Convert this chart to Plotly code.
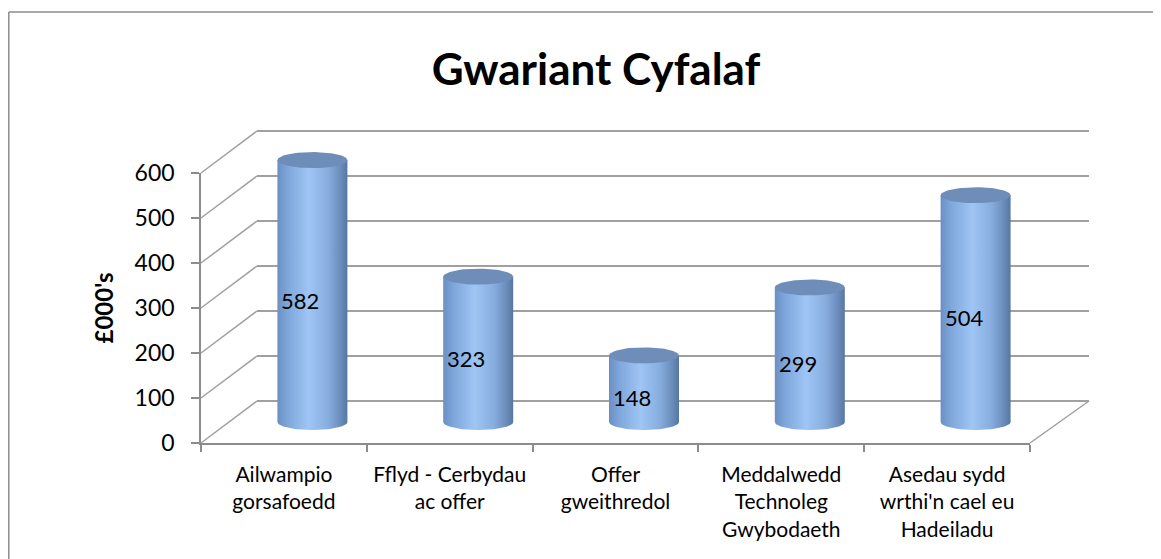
import numpy as np
import plotly.graph_objects as go

# ---------------- data ----------------
categories = [
    "Ailwampio<br>gorsafoedd",
    "Fflyd - Cerbydau<br>ac offer",
    "Offer<br>gweithredol",
    "Meddalwedd<br>Technoleg<br>Gwybodaeth",
    "Asedau sydd<br>wrthi'n cael eu<br>Hadeiladu",
]
values = [582, 323, 148, 299, 504]
y_ticks = [0, 100, 200, 300, 400, 500, 600]
chart_title = "Gwariant Cyfalaf"
y_title = "£000's"

# ---------------- geometry ----------------
OFF = 8                        # page body margin
W, H = 1161, 559
FX0, FX1 = 201 - OFF, 1030 - OFF
FY0 = 443 - OFF                # front zero line
K = 0.45                       # px per unit
MID_DX, MID_DY = 28.5, -21
BACK_DX, BACK_DY = 56, -42
BACK_X1 = 1089 - OFF
YMAX = 600

FONT = "Lato"
GRID = "#a0a0a0"
AXIS = "#8c8c8c"


def ydom(lo, hi, yzero):
    pb = yzero - lo * K
    pt = yzero - hi * K
    return [1 - pb / H, 1 - pt / H]


n = len(categories)
idx = list(range(n))

fig = go.Figure()

# ---- back wall (subplot 1): gridlines ----
back_rng = [-3, YMAX + 3]
fig.add_trace(go.Scatter(x=[0], y=[0], mode="markers", marker=dict(opacity=0),
                         hoverinfo="skip", showlegend=False, xaxis="x", yaxis="y"))

# ---- cylinders (subplot 2, mid depth) ----
w = 35 / ((FX1 - FX0) / n)     # half width in category units
ry = 8 / K                     # ellipse half height in value units
body_scale = [
    [0.0, "#6a8fc4"], [0.15, "#7fa7db"], [0.45, "#9ec5f4"],
    [0.72, "#88aedf"], [0.9, "#6b8dbc"], [1.0, "#56779f"],
]
t_front = np.linspace(np.pi, 2 * np.pi, 40)
t_full = np.linspace(0, 2 * np.pi, 80)
for i, v in zip(idx, values):
    bx = list(i + w * np.cos(t_front)) + [i + w, i - w, i - w]
    by = list(0 + ry * np.sin(t_front)) + [v, v, 0]
    fig.add_trace(go.Scatter(
        x=bx, y=by, mode="lines", fill="toself", line=dict(width=0, color="rgba(0,0,0,0)"),
        fillgradient=dict(type="horizontal", colorscale=body_scale, start=i - w, stop=i + w),
        hoverinfo="skip", showlegend=False, xaxis="x2", yaxis="y2"))
    fig.add_trace(go.Scatter(
        x=list(i + w * np.cos(t_full)), y=list(v + ry * np.sin(t_full)),
        mode="lines", fill="toself", fillcolor="#6e8db8",
        line=dict(width=0, color="rgba(0,0,0,0)"),
        hoverinfo="skip", showlegend=False, xaxis="x2", yaxis="y2"))

# ---- front axes (subplot 3) ----
fig.add_trace(go.Scatter(x=categories, y=values, mode="markers", marker=dict(opacity=0),
                         hoverinfo="skip", showlegend=False, xaxis="x3", yaxis="y3"))

# data labels
annotations = []
for i, v in zip(idx, values):
    annotations.append(dict(
        x=i, y=v / 2, xref="x2", yref="y2", text=str(v), showarrow=False,
        xanchor="left", yanchor="middle", xshift=-33, yshift=-9,
        font=dict(family=FONT, size=22, color="black")))

# diagonal edges and frame
shapes = []
for v in y_ticks:
    fy = FY0 - v * K
    shapes.append(dict(type="line", xref="paper", yref="paper",
                       x0=FX0 / W, y0=1 - fy / H,
                       x1=(FX0 + BACK_DX) / W, y1=1 - (fy + BACK_DY) / H,
                       line=dict(color=GRID, width=1.5)))
shapes.append(dict(type="line", xref="paper", yref="paper",
                   x0=FX1 / W, y0=1 - FY0 / H,
                   x1=BACK_X1 / W, y1=1 - (FY0 + BACK_DY) / H,
                   line=dict(color=GRID, width=1.5)))
bl = 0.8 / W
bt = 1 - (12 - OFF) / H
shapes.append(dict(type="line", xref="paper", yref="paper",
                   x0=bl, y0=0, x1=bl, y1=bt, line=dict(color="#8c8c8c", width=1.5)))
shapes.append(dict(type="line", xref="paper", yref="paper",
                   x0=bl, y0=bt, x1=1, y1=bt, line=dict(color="#8c8c8c", width=1.5)))

fig.update_layout(
    width=W, height=H, autosize=False,
    margin=dict(l=0, r=0, t=0, b=0, pad=0),
    paper_bgcolor="white", plot_bgcolor="rgba(0,0,0,0)",
    hovermode=False, showlegend=False,
    title=dict(text=f"<b>{chart_title}</b>", x=(596 - OFF) / W, xanchor="center",
               y=1 - (70 - OFF) / H, yanchor="middle", automargin=False,
               font=dict(family=FONT, size=44, color="black")),
    font=dict(family=FONT, color="black"),
    # back wall
    xaxis=dict(domain=[(FX0 + BACK_DX) / W, BACK_X1 / W], range=[-0.5, n - 0.5],
               visible=False, anchor="y", automargin=False),
    yaxis=dict(domain=ydom(back_rng[0], back_rng[1], FY0 + BACK_DY), range=back_rng,
               anchor="x", showgrid=True, gridcolor=GRID, gridwidth=2,
               tickvals=y_ticks, showticklabels=False, zeroline=False,
               showline=False, ticks="", automargin=False),
    # mid depth (cylinders)
    xaxis2=dict(domain=[(FX0 + MID_DX) / W, (FX1 + MID_DX) / W], range=[-0.5, n - 0.5],
                visible=False, anchor="y2", automargin=False),
    yaxis2=dict(domain=ydom(-40, 640, FY0 + MID_DY), range=[-40, 640],
                visible=False, anchor="x2", automargin=False),
    # front axes
    xaxis3=dict(domain=[FX0 / W, FX1 / W], type="category", range=[-0.5, n - 0.5],
                anchor="y3", showline=True, linecolor=AXIS, linewidth=1.5,
                ticks="outside", ticklen=7, tickcolor=AXIS, tickwidth=1.5,
                tickson="boundaries", showgrid=False, automargin=False,
                tickangle=0,
                tickfont=dict(family=FONT, size=21, color="black"),
                ticklabelstandoff=12),
    yaxis3=dict(domain=ydom(0, YMAX, FY0), range=[0, YMAX], anchor="x3",
                tickvals=y_ticks, showline=True, linecolor=AXIS, linewidth=1.5,
                ticks="outside", ticklen=8, tickcolor=AXIS, tickwidth=1.5,
                showgrid=False, zeroline=False, automargin=False,
                tickfont=dict(family=FONT, size=23, color="black"),
                ticklabelstandoff=12,
                title=dict(text=f"<b>{y_title}</b>", standoff=14,
                           font=dict(family=FONT, size=24, color="black"))),
    annotations=annotations,
    shapes=shapes,
)

fig.write_html("out.html")
